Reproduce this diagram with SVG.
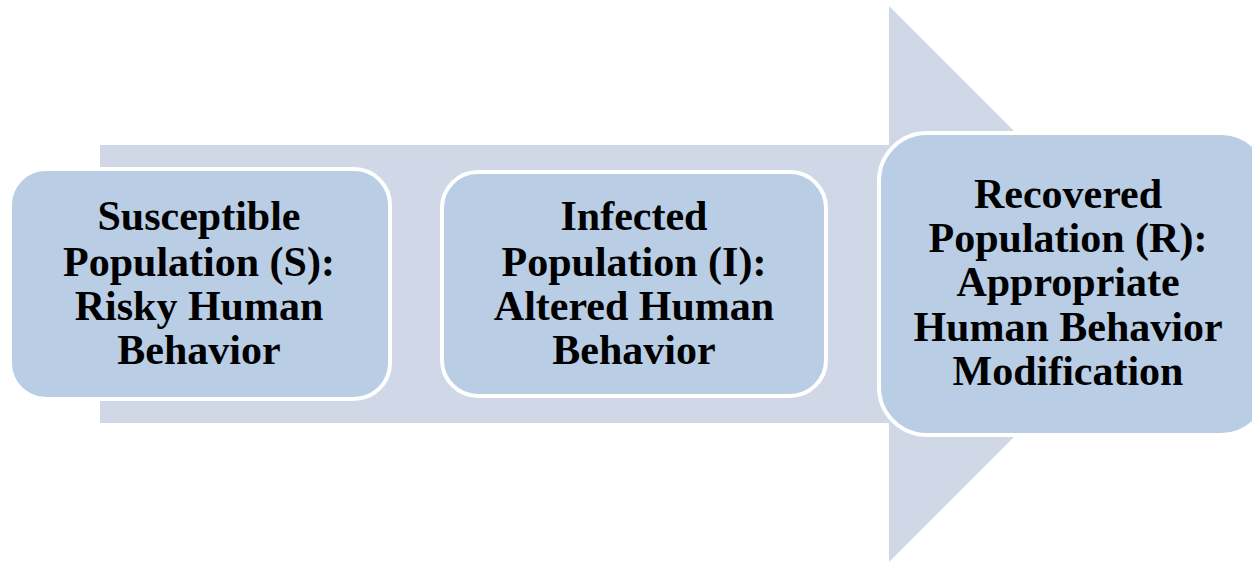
<svg xmlns="http://www.w3.org/2000/svg" width="1252" height="562" viewBox="0 0 1252 562">
<style>
.box{fill:#B9CDE5;stroke:#FFFFFF;stroke-width:4}
.lbl{font-family:"Liberation Serif","Times New Roman",serif;font-weight:bold;font-size:42px;fill:#000000;text-anchor:middle}
</style>
<rect width="1252" height="562" fill="#FFFFFF"/>
<g id="connectors">
<polygon points="100,145 889,145 889,6 1167,284 889,562 889,423 100,423" fill="#D0D8E8"/>
</g>
<g id="node-s">
<rect class="box" x="10" y="169" width="380" height="230" rx="36" ry="36"/>
<text class="lbl" x="199" y="230">Susceptible</text>
<text class="lbl" x="199" y="276">Population (S):</text>
<text class="lbl" x="199" y="320">Risky Human</text>
<text class="lbl" x="199" y="364">Behavior</text>
</g>
<g id="node-i">
<rect class="box" x="442" y="172" width="384" height="224" rx="36" ry="36"/>
<text class="lbl" x="634" y="230">Infected</text>
<text class="lbl" x="634" y="276">Population (I):</text>
<text class="lbl" x="634" y="320">Altered Human</text>
<text class="lbl" x="634" y="364">Behavior</text>
</g>
<g id="node-r">
<rect class="box" x="879" y="133" width="390" height="302" rx="48" ry="48"/>
<text class="lbl" x="1068" y="208">Recovered</text>
<text class="lbl" x="1068" y="252">Population (R):</text>
<text class="lbl" x="1068" y="296">Appropriate</text>
<text class="lbl" x="1068" y="341">Human Behavior</text>
<text class="lbl" x="1068" y="385">Modification</text>
</g>
</svg>
